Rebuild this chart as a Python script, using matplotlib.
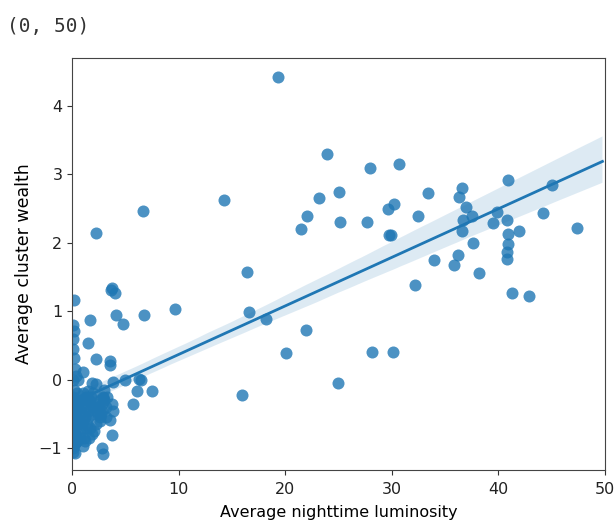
import matplotlib
matplotlib.use("Agg")
import matplotlib.pyplot as plt
import numpy as np
import seaborn as sns

# luminosity vs wealth
lum_right = [19.3, 23.95, 27.95, 30.7, 14.26, 23.2, 25.05, 22.0, 21.45, 25.1,
             27.65, 29.6, 30.2, 29.7, 29.9, 21.95, 20.1, 28.1, 30.15, 25.0,
             16.45, 16.57, 18.2, 15.95,
             40.9, 45.0, 33.4, 36.55, 36.3, 32.5, 37.0, 37.5, 36.7, 36.55,
             39.5, 39.9, 40.8, 40.9, 41.96, 40.9, 40.8, 40.8, 44.15, 47.4,
             37.6, 36.2, 35.8, 34.0, 38.2, 32.2, 41.3, 42.9]
wealth_right = [4.42, 3.30, 3.10, 3.15, 2.63, 2.66, 2.74, 2.40, 2.21, 2.31,
                2.31, 2.49, 2.57, 2.11, 2.12, 0.72, 0.39, 0.41, 0.41, -0.05,
                1.58, 0.99, 0.89, -0.22,
                2.92, 2.85, 2.73, 2.80, 2.67, 2.39, 2.52, 2.39, 2.33, 2.18,
                2.29, 2.45, 2.33, 2.13, 2.18, 1.98, 1.87, 1.77, 2.43, 2.22,
                2.00, 1.83, 1.68, 1.75, 1.56, 1.38, 1.27, 1.23]

lum_mid = [6.7, 6.75, 9.66, 7.47, 6.5, 6.13, 5.7, 4.97, 6.3]
wealth_mid = [2.46, 0.94, 1.04, -0.17, 0.0, -0.16, -0.35, -0.01, 0.01]

lum_left = [2.25, 3.63, 4.03, 3.72, 0.2, 1.69, 4.13, 4.8, 0.2, 1.53,
            2.25, 3.57, 3.6, 1.0, 3.88, 2.25, 1.53, 2.94, 2.47, 3.72,
            3.88, 3.57, 2.63, 1.85, 1.2, 1.06, 0.9, 3.72, 2.78, 2.94,
            1.0, 0.28, 0.75,
            0.05, 0.1, 0.1, 0.15, 0.3, 0.05, 0.2, 0.1, 0.3, 0.05,
            0.2, 0.1, 0.3, 0.1, 0.5, 0.6, 0.4,
            1.3, 1.7, 2.0, 2.6, 3.2, 3.0, 1.5, 2.2, 0.8, 0.6,
            1.9, 3.3, 2.8, 0.7, 1.1, 0.5]
wealth_left = [2.15, 1.31, 1.27, 1.34, 1.16, 0.88, 0.95, 0.82, 0.71, 0.54,
               0.30, 0.28, 0.22, 0.11, -0.04, -0.06, -0.16, -0.26, -0.40, -0.35,
               -0.45, -0.59, -0.55, -0.50, -0.40, -0.60, -0.70, -0.81, -1.00, -1.08,
               -0.97, -1.07, -0.76,
               0.80, 0.60, 0.45, 0.32, 0.15, 0.0, -0.15, -0.30, -0.45, -0.55,
               -0.70, -0.85, -0.92, -1.05, -0.20, -0.35, 0.05,
               -0.25, -0.32, -0.20, -0.30, -0.40, -0.15, -0.45, -0.65, -0.30, 0.0,
               -0.05, -0.25, -0.45, -0.50, -0.85, -0.90]

# the dense overlapping blob near the origin
lum_blob = [0.4, 0.8, 1.2, 1.6, 2.0, 2.4, 2.8, 3.2, 1.3, 1.0,
            1.4, 1.8, 2.2, 2.6, 3.0, 0.7, 0.6, 1.1, 1.7, 2.3,
            2.9, 1.9, 0.3, 0.9, 1.5, 2.1, 2.7, 1.2, 0.5, 1.6]
wealth_blob = [-0.35, -0.45, -0.55, -0.30, -0.40, -0.50, -0.35, -0.55, -0.70, -0.20,
               -0.65, -0.25, -0.35, -0.60, -0.30, -0.85, -0.60, -0.30, -0.70, -0.45,
               -0.25, -0.80, -0.50, -0.40, -0.55, -0.75, -0.50, -0.90, -0.65, -0.85]

# dark clusters stacked on the left edge
lum_edge = [0.0, 0.1, 0.2, 0.05, 0.15, 0.3, 0.0, 0.1, 0.25, 0.05,
            0.2, 0.0, 0.1, 0.3, 0.15, 0.05, 0.2, 0.0, 0.1, 0.25]
wealth_edge = [-0.30, -0.40, -0.50, -0.60, -0.70, -0.80, -0.90, -1.00, -0.35, -0.45,
               -0.55, -0.65, -0.75, -0.85, -0.95, -0.25, -0.60, -0.50, -0.70, -0.80]

lum = np.array(lum_left + lum_blob + lum_edge + lum_mid + lum_right)
wealth = np.array(wealth_left + wealth_blob + wealth_edge + wealth_mid + wealth_right)

fig = plt.figure(figsize=(6.16, 5.29), dpi=100)
ax = fig.add_axes([0.117, 0.1115, 0.865, 0.7785])

sns.regplot(x=lum, y=wealth, ax=ax, color="#1f77b4", truncate=False, seed=0,
            scatter_kws={"s": 75, "alpha": 0.8, "linewidths": 0},
            line_kws={"linewidth": 2})
ax.set_xlim(0, 50)
ax.set_ylim(-1.32, 4.70)
ax.set_xticks([0, 10, 20, 30, 40, 50])
ax.set_yticks([-1, 0, 1, 2, 3, 4])
ax.set_xlabel("Average nighttime luminosity", fontsize=11.5, labelpad=6)
ax.set_ylabel("Average cluster wealth", fontsize=12.5)
ax.tick_params(labelsize=11.5, colors="#333333", labelcolor="#222222")
ax.tick_params(axis="x", pad=5)
for sp in ax.spines.values():
    sp.set_color("#444444")

fig.text(0.011, 0.932, "(0, 50)", family="DejaVu Sans Mono", fontsize=14,
         color="#333333", ha="left", va="bottom")

fig.savefig("out.png", dpi=100, facecolor="white")
